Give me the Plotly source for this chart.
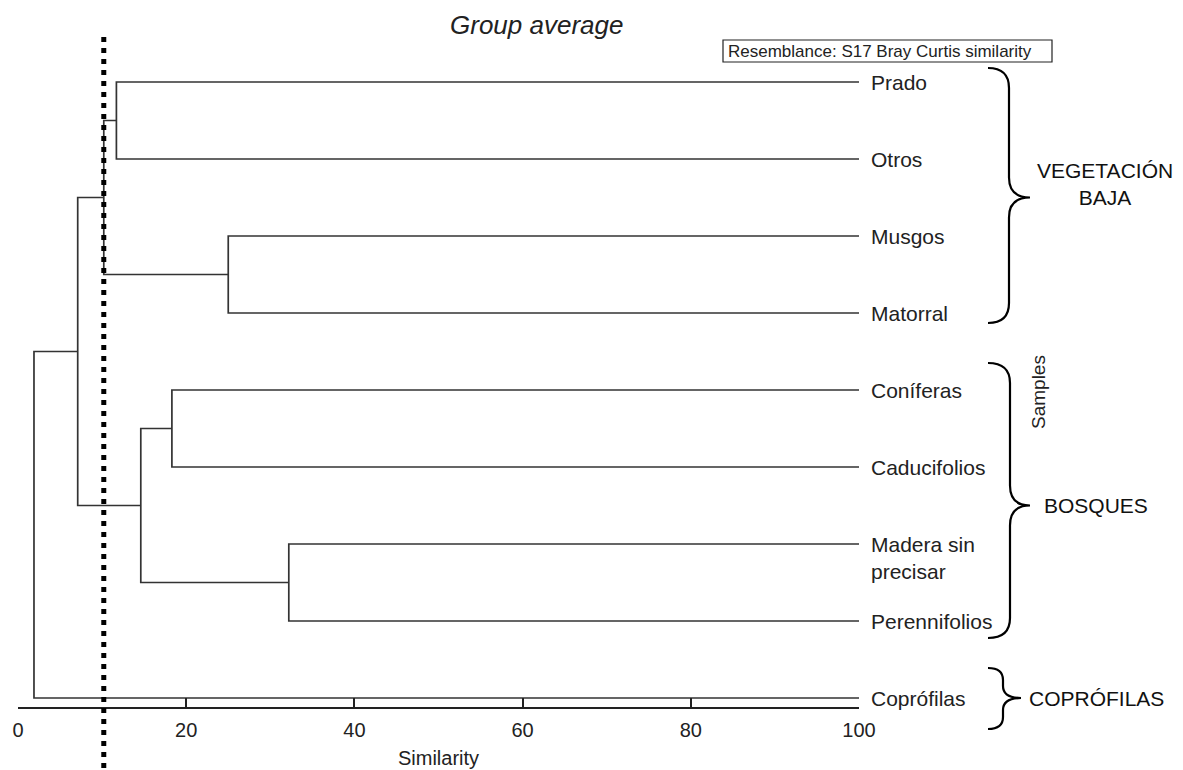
import plotly.graph_objects as go

# ---- data ----
leaves = ["Prado", "Otros", "Musgos", "Matorral", "Coníferas", "Caducifolios",
          "Madera sin<br>precisar", "Perennifolios", "Coprófilas"]
# merges: (child_a, child_b, similarity); children are leaf indices or "n<k>" for earlier merges
merge_a = [0, 2, "n0", 4, 6, "n3", "n2", "n6"]
merge_b = [1, 3, "n1", 5, 7, "n4", "n5", 8]
merge_sim = [11.7, 25.0, 10.2, 18.3, 32.2, 14.6, 7.1, 1.9]
cut_level = 10.2
x_ticks = [0, 20, 40, 60, 80, 100]
groups = ["VEGETACIÓN<br>BAJA", "BOSQUES", "COPRÓFILAS"]
group_first_leaf = [0, 4, 8]
group_last_leaf = [3, 7, 8]

# ---- geometry helpers (plot area in pixels) ----
PX_L, PX_R, PX_T, PX_B = 18, 859, 0, 707
W, H = 1183, 770
def px(x):  # pixel x -> paper
    return (x - PX_L) / (PX_R - PX_L)
def py(y):  # pixel y -> paper
    return (PX_B - y) / (PX_B - PX_T)

LEAF_TOP, LEAF_STEP = 82, 77
def leaf_pix(i):
    return LEAF_TOP + LEAF_STEP * i

# ---- build dendrogram segments ----
pos = {}
for i in range(len(leaves)):
    pos[i] = (100.0, float(i))
xs, ys = [], []
for k, (a, b, s) in enumerate(zip(merge_a, merge_b, merge_sim)):
    xa, ya = pos[a]
    xb, yb = pos[b]
    xs += [xa, s, s, xb, None]
    ys += [ya, ya, yb, yb, None]
    pos["n%d" % k] = (s, (ya + yb) / 2)

fig = go.Figure()
fig.add_trace(go.Scatter(x=xs, y=ys, mode="lines",
                         line=dict(color="#333333", width=1.7),
                         hoverinfo="skip", showlegend=False))

TXT = "#222222"
FONT = "Liberation Sans, Arial, sans-serif"

# leaf labels
for i, name in enumerate(leaves):
    yshift = -14 if "<br>" in name else 0
    fig.add_annotation(x=100, y=i, xref="x", yref="y", text=name, showarrow=False,
                       xanchor="left", yanchor="middle", align="left", xshift=10, yshift=yshift,
                       font=dict(family=FONT, size=21, color=TXT))

# cut line
fig.add_shape(type="line", xref="x", yref="paper", x0=cut_level, x1=cut_level,
              y0=py(37), y1=py(775), line=dict(color="black", width=5, dash="5px,6px"))

# braces
def brace(top, bot, tip, x_end=988, x_vert=1009, x_tip=1030, r=18):
    pts = (f"M {px(x_end)},{py(top)} "
           f"Q {px(x_vert)},{py(top)} {px(x_vert)},{py(top + r)} "
           f"L {px(x_vert)},{py(tip - r)} "
           f"Q {px(x_vert)},{py(tip)} {px(x_tip)},{py(tip)} "
           f"Q {px(x_vert)},{py(tip)} {px(x_vert)},{py(tip + r)} "
           f"L {px(x_vert)},{py(bot - r)} "
           f"Q {px(x_vert)},{py(bot)} {px(x_end)},{py(bot)}")
    return pts

brace_specs = [
    dict(top=68, bot=323, x_vert=1009, x_tip=1030, r=20),
    dict(top=363, bot=638, x_vert=1010, x_tip=1030, r=20),
    dict(top=668, bot=729, x_vert=1003, x_tip=1021, r=12),
]
label_x = [1105, 1042, 1027]
label_anchor = ["center", "left", "left"]
for g, spec in enumerate(brace_specs):
    tip = (leaf_pix(group_first_leaf[g]) + leaf_pix(group_last_leaf[g])) / 2
    if g == 2:
        tip = 698
    fig.add_shape(type="path", xref="paper", yref="paper",
                  path=brace(spec["top"], spec["bot"], tip, x_vert=spec["x_vert"],
                             x_tip=spec["x_tip"], r=spec["r"]),
                  line=dict(color="black", width=2.2))
    fig.add_annotation(x=px(label_x[g]), y=py(tip - 14 if g == 0 else tip), xref="paper", yref="paper",
                       text=groups[g], showarrow=False, xanchor=label_anchor[g], yanchor="middle",
                       align="center", font=dict(family=FONT, size=21, color="#111111"))

# Samples (rotated)
fig.add_annotation(x=px(1038), y=py(392), xref="paper", yref="paper", text="Samples",
                   textangle=-90, showarrow=False, xanchor="center", yanchor="middle",
                   font=dict(family=FONT, size=19, color=TXT))

# Title
fig.add_annotation(x=px(536), y=py(25), xref="paper", yref="paper", text="Group average",
                   showarrow=False, xanchor="center", yanchor="middle",
                   font=dict(family=FONT, size=26, color=TXT, style="italic"))

# Resemblance box
fig.add_shape(type="rect", xref="paper", yref="paper", x0=px(723), x1=px(1052),
              y0=py(62), y1=py(40), line=dict(color="#222222", width=1.2))
fig.add_annotation(x=px(726), y=py(51), xref="paper", yref="paper",
                   text="Resemblance: S17 Bray Curtis similarity", showarrow=False,
                   xanchor="left", yanchor="middle",
                   font=dict(family=FONT, size=17, color=TXT))

fig.update_layout(
    width=W, height=H,
    margin=dict(l=PX_L, r=W - PX_R, t=PX_T, b=H - PX_B, pad=0),
    paper_bgcolor="white", plot_bgcolor="white",
    showlegend=False,
    xaxis=dict(range=[0, 100], tickvals=x_ticks, ticktext=[str(t) for t in x_ticks],
               showline=True, linecolor="#222222", linewidth=1.5,
               ticks="inside", ticklen=9, tickwidth=1.5, tickcolor="#222222",
               ticklabelstandoff=4,
               showgrid=False, zeroline=False, automargin=False,
               tickfont=dict(family=FONT, size=20, color=TXT),
               title=dict(text="Similarity", font=dict(family=FONT, size=20, color=TXT), standoff=11)),
    yaxis=dict(range=[(PX_B - LEAF_TOP) / LEAF_STEP, (PX_T - LEAF_TOP) / LEAF_STEP],
               visible=False, automargin=False),
)

fig.write_html("out.html", config={"displayModeBar": False},
               post_script="document.body.style.margin='0';document.body.style.overflow='hidden';")
